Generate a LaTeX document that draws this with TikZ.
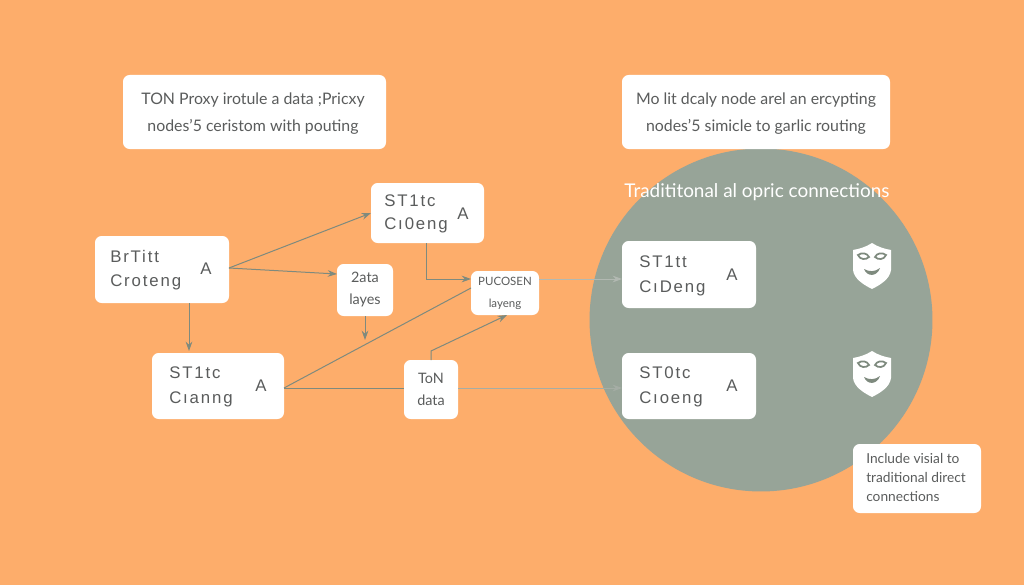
\documentclass[tikz,border=0pt]{standalone}
\usepackage{fontspec}
\usetikzlibrary{arrows.meta,positioning}
\setmainfont{Lato}
\newfontfamily\boxfont[LetterSpace=11]{Liberation Sans}
\definecolor{bgor}{HTML}{FDAD6B}
\definecolor{sage}{HTML}{97A498}
\definecolor{ink}{HTML}{5A5C5C}
\definecolor{wire}{HTML}{7E8A7E}
\tikzset{
  x=0.75pt,y=-0.75pt,
  card/.style={draw=none,fill=white,rounded corners=5pt,minimum width=#1,inner sep=0pt,outer sep=0pt},
  captxt/.style={text=ink,font=\fontsize{11.9}{20}\selectfont,align=center,inner sep=0pt},
  tagtxt/.style={text=ink,font=\boxfont\fontsize{12.6}{14}\selectfont,anchor=west,inner sep=0pt},
  smalltxt/.style={text=ink,font=\fontsize{10.8}{16.5}\selectfont,align=center,inner sep=0pt},
  wirel/.style={draw=wire,line width=0.75pt},
  arr/.style={wirel,-{Stealth[length=7pt,width=5pt]}},
  pics/facemask/.style={code={
    \fill[white] (0,-23) .. controls (6,-19) and (13,-17) .. (19,-16) -- (19,4)
      .. controls (18,13) and (8,19) .. (0,23) .. controls (-8,19) and (-18,13) .. (-19,4)
      -- (-19,-16) .. controls (-13,-17) and (-6,-19) .. (0,-23) -- cycle;
    \draw[wire,line width=1.3pt] (-14,-11) .. controls (-10,-14) and (-5,-13) .. (-3,-9)
      .. controls (-6,-6) and (-12,-6) .. (-14,-11) -- cycle;
    \draw[wire,line width=1.3pt] (14,-11) .. controls (10,-14) and (5,-13) .. (3,-9)
      .. controls (6,-6) and (12,-6) .. (14,-11) -- cycle;
    \fill[wire] (-8,3) .. controls (-3,6) and (3,6) .. (8,2) .. controls (5,11) and (-5,11) .. (-8,3) -- cycle;
  }}
}
\begin{document}
\begin{tikzpicture}
\useasboundingbox (0,0) rectangle (1024,585);
\fill[bgor] (0,0) rectangle (1024,585);
\fill[sage] (761,320) circle[radius=128.6pt];

% cards
\node[card=197.25pt,minimum height=55.5pt] (capL) at (254.5,112) {};
\node[card=201pt,minimum height=55.5pt] (capR) at (756,112) {};
\node[card=100.5pt,minimum height=50.25pt] (brt) at (162,269.5) {};
\node[card=84.75pt,minimum height=45pt] (st) at (427.5,213) {};
\node[card=99pt,minimum height=49.5pt] (cl) at (218,386) {};
\node[card=42pt,minimum height=39pt] (lay) at (365,290) {};
\node[card=51pt,minimum height=33pt] (puc) at (505,293) {};
\node[card=40.5pt,minimum height=44.25pt] (ton) at (431,389.5) {};
\node[card=100.5pt,minimum height=50.25pt] (r1) at (689,274.5) {};
\node[card=100.5pt,minimum height=49.5pt] (r2) at (689,386) {};
\node[card=96pt,minimum height=51.75pt] (note) at (917,478.5) {};

% connectors
\coordinate (brtE) at (229,268);
\coordinate (clE) at (284,388);
\draw[arr] (brtE) -- (st.west);
\draw[arr] (brtE) -- (337,274);
\draw[arr] (189,303) -- (189,351);
\draw[arr] (lay.south) -- (365,340);
\draw[arr] (426,243) |- (471,279);
\draw[wirel,draw=wire!60!white,-{Stealth[length=7pt,width=5pt]}] (539,279) -- (622,279);
\draw[wirel] (clE) -- (471,288);
\draw[wirel] (clE) -- (404,388);
\draw[wirel,draw=wire!70!white,-{Stealth[length=7pt,width=5pt]}] (458,388) -- (622,388);
\draw[arr] (431,360) -- (431,351) -- (507,315);

% captions
\node[captxt] (tL) at (253,113.5) {TON Proxy irotule a data ;Pricxy\\nodes'5 ceristom with pouting};
\node[captxt] (tR) at (756,113.5) {Mo lit dcaly node arel an ercypting\\nodes'5 simicle to garlic routing};
\node[text=white,inner sep=0pt,font=\fontsize{14.2}{17}\selectfont] (tT) at (757,192) {Tradititonal al opric connections};

% box labels
\node[tagtxt] (a1) at (110,256) {BrTitt};
\node[tagtxt] (a2) at (110,282) {Croteng};
\node[tagtxt,anchor=center] (a3) at (206,269) {A};
\node[tagtxt] (b1) at (384,201) {ST1tc};
\node[tagtxt] (b2) at (384,225) {Cı0eng};
\node[tagtxt,anchor=center] (b3) at (463,214) {A};
\node[tagtxt] (c1) at (169,373) {ST1tc};
\node[tagtxt] (c2) at (169,399) {Cıanng};
\node[tagtxt,anchor=center] (c3) at (261,386) {A};
\node[tagtxt] (d1) at (639,262) {ST1tt};
\node[tagtxt] (d2) at (639,288) {CıDeng};
\node[tagtxt,anchor=center] (d3) at (732,275) {A};
\node[tagtxt] (e1) at (639,373) {ST0tc};
\node[tagtxt] (e2) at (639,399) {Cıoeng};
\node[tagtxt,anchor=center] (e3) at (732,386) {A};

\node[smalltxt] (lt) at (365,290) {2ata\\layes};
\node[smalltxt,font=\fontsize{8.6}{16.5}\selectfont] (pt) at (505,293) {PUCOSEN\\layeng};
\node[smalltxt] (tt) at (431,389.5) {ToN\\data};
\node[smalltxt,align=left,anchor=west,font=\fontsize{10.3}{14.2}\selectfont] (nt) at (866,477.5) {Include visial to\\traditional direct\\connections};

% masks
\pic at (872,266) {facemask};
\pic at (872,374) {facemask};
\end{tikzpicture}
\end{document}
